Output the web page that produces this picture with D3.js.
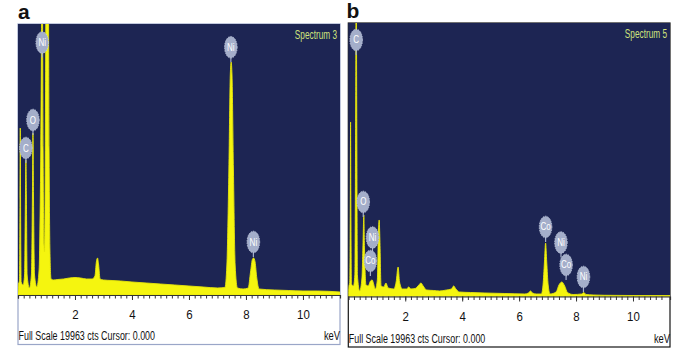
<!DOCTYPE html>
<html><head><meta charset="utf-8">
<script src="https://cdn.jsdelivr.net/npm/d3@7"></script>
<style>body{margin:0;background:#fff} svg{display:block}</style>
</head><body>
<svg id="c" width="686" height="355"></svg>
<script>
// ---------------- DATA ----------------
const panelLetters = ["a", "b"];
const spectrumNames = ["Spectrum 3", "Spectrum 5"];
const footerText = "Full Scale 19963 cts Cursor: 0.000";
const fullScale = 19963;           // counts at top of plot
const energyMax = 11.3;            // keV at right edge
const tickLabels = [2, 4, 6, 8, 10];

// Spectrum a (keV, counts)
const energyA = [0.00,0.02,0.05,0.07,0.08,0.09,0.11,0.18,0.23,0.26,0.277,0.295,0.32,0.40,0.47,0.505,0.525,0.545,0.58,0.66,0.74,0.80,0.85,0.88,0.91,0.93,0.95,0.99,1.06,1.09,1.12,1.16,
  1.25,1.4,1.6,1.8,2.0,2.2,2.4,2.6,2.70,2.75,2.79,2.83,2.88,3.0,3.3,3.6,4.0,4.5,5.0,5.5,6.0,6.5,7.0,7.26,7.33,7.40,7.45,7.48,7.51,7.56,7.62,7.70,7.9,8.08,8.16,8.23,8.27,8.32,8.38,8.46,9.0,9.5,10.0,10.5,11.3];
const countsA = [0,810,1031,7000,12300,7000,958,737,1473,7000,9944,7000,1473,516,1473,7000,11933,7000,1473,589,1842,10680,24700,10680,3683,3167,7000,24700,24700,10680,3315,1179,
  1105,1142,1179,1252,1289,1252,1179,1179,1400,2431,2725,2210,1179,1105,1068,1031,958,884,810,737,663,589,516,552,2210,9208,16205,17163,16205,9208,2210,516,442,516,1694,2652,2725,2431,1252,442,368,331,295,295,221];

// Spectrum b (keV, counts)
const energyB = [0.00,0.02,0.05,0.07,0.08,0.09,0.11,0.18,0.23,0.26,0.277,0.295,0.32,0.40,0.48,0.52,0.545,0.57,0.62,0.70,0.78,0.84,0.88,0.95,1.02,1.06,1.085,1.11,1.15,1.25,1.32,1.40,1.60,1.68,1.75,1.80,1.90,2.05,2.12,2.20,2.35,2.48,2.55,2.63,2.75,3.0,3.2,3.45,3.62,3.70,3.78,3.9,4.3,4.8,5.5,6.2,6.33,6.40,6.47,6.6,6.78,6.84,6.89,6.93,6.97,7.02,7.09,7.3,7.40,7.50,7.60,7.70,7.9,8.2,8.27,8.35,8.6,9.0,10.0,11.3];
const countsB = [0,767,986,7045,12739,7045,913,767,1570,14345,24600,14345,1570,402,1351,4125,5950,3395,840,767,1132,1205,986,548,1205,4855,5585,4125,767,694,986,621,548,1059,2154,1059,548,548,694,548,584,840,986,767,475,438,402,475,548,767,548,329,292,256,219,183,256,402,256,183,183,840,2519,3906,2519,840,183,329,840,1059,767,292,146,183,292,146,110,88,73,73];

// Element markers
const elementsA = ["C", "O", "Ni", "Ni", "Ni"];
const markerEnergyA = [0.277, 0.525, 0.85, 7.47, 8.26];
const markerCountsA = [10828, 12890, 18600, 18250, 3904];
const elementsB = ["C", "O", "Ni", "Co", "Co", "Ni", "Co", "Ni"];
const markerEnergyB = [0.277, 0.525, 0.85, 0.776, 6.93, 7.47, 7.65, 8.26];
const markerCountsB = [18725, 6899, 4307, 2592, 5074, 3942, 2300, 1424];

// ---------------- LAYOUT ----------------
const panels = [
  {energy: energyA, counts: countsA, els: elementsA, mE: markerEnergyA, mC: markerCountsA,
   x0: 18, x1: 340, yTop: 24, yAxis: 295, yBottom: 344.5, frame: "#9aa6c8",
   letterX: 18, letterY: 18.5, footY: 339.5, kevY: 339.5},
  {energy: energyB, counts: countsB, els: elementsB, mE: markerEnergyB, mC: markerCountsB,
   x0: 348.3, x1: 670, yTop: 23, yAxis: 296.5, yBottom: 347, frame: "#151515",
   letterX: 346.5, letterY: 18, footY: 342.5, kevY: 343}
];

const svg = d3.select("#c");
const sans = "'Liberation Sans',Arial,sans-serif";

// narrow text: horizontally compressed via transform
function narrowText(sel, xPos, yPos, str, size, sx, anchor, fill) {
  return sel.append("text")
    .attr("transform", `translate(${xPos},${yPos}) scale(${sx},1)`)
    .attr("text-anchor", anchor).text(str)
    .attr("font-family", sans).attr("font-size", size).attr("fill", fill);
}

panels.forEach((p, i) => {
  const x = d3.scaleLinear().domain([0, energyMax]).range([p.x0, p.x1]);
  const y = d3.scaleLinear().domain([0, fullScale]).range([p.yAxis, p.yTop]);
  const g = svg.append("g");

  g.append("text").attr("x", p.letterX).attr("y", p.letterY).text(panelLetters[i])
    .attr("font-family", sans).attr("font-weight", "bold")
    .attr("font-size", 21).attr("fill", "#111");

  g.append("rect").attr("x", p.x0).attr("y", p.yTop).attr("width", p.x1 - p.x0)
    .attr("height", p.yBottom - p.yTop).attr("fill", "#fff").attr("stroke", p.frame).attr("stroke-width", 1.2);
  g.append("rect").attr("x", p.x0).attr("y", p.yTop).attr("width", p.x1 - p.x0)
    .attr("height", p.yAxis - p.yTop).attr("fill", "#1d2553");

  const cid = "clip" + i;
  svg.append("clipPath").attr("id", cid).append("rect")
    .attr("x", p.x0).attr("y", p.yTop).attr("width", p.x1 - p.x0).attr("height", p.yAxis - p.yTop);

  const pts = p.energy.map((e, k) => [e, p.counts[k]]);
  const area = d3.area().x(d => x(d[0])).y0(y(0)).y1(d => y(d[1])).curve(d3.curveMonotoneX);
  g.append("path").attr("d", area(pts)).attr("clip-path", `url(#${cid})`)
    .attr("fill", "#f5f50f").attr("stroke", "#e6e60a").attr("stroke-width", 0.9).attr("stroke-linejoin", "round");

  narrowText(g, p.x1 - 3, p.yTop + 14.5, spectrumNames[i], 12.5, 0.66, "end", "#cfe27c");

  const m = g.selectAll("g.mk").data(p.els.map((el, k) => ({el, e: p.mE[k], c: p.mC[k]})))
    .enter().append("g").attr("transform", d => `translate(${x(d.e)},${y(d.c)})`);
  m.append("line").attr("x1", 0).attr("x2", 0).attr("y1", 9).attr("y2", 15)
    .attr("stroke", "#a7b1cc").attr("stroke-width", 1.2);
  m.append("ellipse").attr("rx", 6.3).attr("ry", 10.8).attr("fill", "#a4aeca")
    .attr("stroke", "#c3cbe0").attr("stroke-width", 0.8).attr("stroke-dasharray", "1.5,1");
  m.append("text").text(d => d.el).attr("text-anchor", "middle")
    .attr("transform", "translate(0,3.5) scale(0.8,1)")
    .attr("font-family", sans).attr("font-size", 10).attr("fill", "#fff");

  const minor = d3.axisBottom(x).tickValues(d3.range(0, 56).map(k => k * 0.2)).tickSize(3.5).tickFormat("");
  const gMinor = g.append("g").attr("transform", `translate(0,${p.yAxis})`).call(minor);
  gMinor.select(".domain").attr("stroke", "#333").attr("stroke-width", 1.2);
  gMinor.selectAll(".tick line").attr("stroke", "#333");
  const major = d3.axisBottom(x).tickValues(tickLabels).tickSize(5).tickFormat(d3.format("d"));
  const gMajor = g.append("g").attr("transform", `translate(0,${p.yAxis})`).call(major);
  gMajor.select(".domain").remove();
  gMajor.selectAll(".tick line").attr("stroke", "#333");
  gMajor.selectAll(".tick text").attr("y", 24.5).attr("dy", 0)
    .attr("font-family", sans).attr("font-size", 13.5).attr("fill", "#111")
    .attr("transform", "scale(0.85,1)").attr("x", 0);

  narrowText(g, p.x0 + 0.5, p.footY, footerText, 13.5, 0.66, "start", "#111");
  narrowText(g, p.x1, p.kevY, "keV", 13, 0.72, "end", "#111");
});
</script>
</body></html>
